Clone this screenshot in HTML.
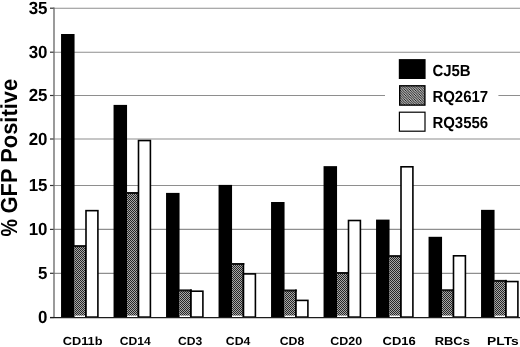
<!DOCTYPE html><html><head><meta charset="utf-8"><title>chart</title><style>html,body{margin:0;padding:0;background:#fff}svg{display:block}text{text-rendering:geometricPrecision;font-family:"Liberation Sans",Arial,sans-serif;font-weight:bold;fill:#000}</style></head><body>
<svg width="520" height="347" viewBox="0 0 520 347">
<defs>
<pattern id="h" width="2" height="2" patternUnits="userSpaceOnUse"><rect width="2" height="2" fill="#a8a8a8"/><rect width="1" height="1" fill="#262626"/><rect x="1" y="1" width="1" height="1" fill="#262626"/></pattern>
<pattern id="d" width="2.5" height="2.5" patternUnits="userSpaceOnUse"><rect width="2.5" height="2.5" fill="#ffffff"/><path d="M-1.25,-1.25 L3.75,3.75 M-1.25,1.25 L1.25,3.75 M1.25,-1.25 L3.75,1.25" stroke="#000" stroke-width="1.0"/></pattern>
</defs>
<rect width="520" height="347" fill="#fff"/>
<line x1="54.0" y1="273.30" x2="520" y2="273.30" stroke="#8e8e8e" stroke-width="1.15"/>
<line x1="54.0" y1="229.40" x2="520" y2="229.40" stroke="#8e8e8e" stroke-width="1.15"/>
<line x1="54.0" y1="185.50" x2="520" y2="185.50" stroke="#8e8e8e" stroke-width="1.15"/>
<line x1="54.0" y1="139.00" x2="520" y2="139.00" stroke="#8e8e8e" stroke-width="1.15"/>
<line x1="54.0" y1="95.50" x2="520" y2="95.50" stroke="#8e8e8e" stroke-width="1.15"/>
<line x1="54.0" y1="52.20" x2="520" y2="52.20" stroke="#8e8e8e" stroke-width="1.15"/>
<line x1="54.0" y1="8.20" x2="520" y2="8.20" stroke="#8e8e8e" stroke-width="1.15"/>
<line x1="50.0" y1="317.50" x2="54.0" y2="317.50" stroke="#333" stroke-width="1.2"/>
<text transform="translate(47.5,323.30) scale(0.96,1)" font-size="17.6" text-anchor="end">0</text>
<line x1="50.0" y1="273.30" x2="54.0" y2="273.30" stroke="#333" stroke-width="1.2"/>
<text transform="translate(47.5,279.10) scale(0.96,1)" font-size="17.6" text-anchor="end">5</text>
<line x1="50.0" y1="229.40" x2="54.0" y2="229.40" stroke="#333" stroke-width="1.2"/>
<text transform="translate(47.5,235.20) scale(0.96,1)" font-size="17.6" text-anchor="end">10</text>
<line x1="50.0" y1="185.50" x2="54.0" y2="185.50" stroke="#333" stroke-width="1.2"/>
<text transform="translate(47.5,191.30) scale(0.96,1)" font-size="17.6" text-anchor="end">15</text>
<line x1="50.0" y1="139.00" x2="54.0" y2="139.00" stroke="#333" stroke-width="1.2"/>
<text transform="translate(47.5,144.80) scale(0.96,1)" font-size="17.6" text-anchor="end">20</text>
<line x1="50.0" y1="95.50" x2="54.0" y2="95.50" stroke="#333" stroke-width="1.2"/>
<text transform="translate(47.5,101.30) scale(0.96,1)" font-size="17.6" text-anchor="end">25</text>
<line x1="50.0" y1="52.20" x2="54.0" y2="52.20" stroke="#333" stroke-width="1.2"/>
<text transform="translate(47.5,58.00) scale(0.96,1)" font-size="17.6" text-anchor="end">30</text>
<line x1="50.0" y1="8.20" x2="54.0" y2="8.20" stroke="#333" stroke-width="1.2"/>
<text transform="translate(47.5,14.00) scale(0.96,1)" font-size="17.6" text-anchor="end">35</text>
<line x1="54.0" y1="7.60" x2="54.0" y2="317.5" stroke="#707070" stroke-width="1.4"/>
<rect x="385" y="54" width="113.4" height="82" fill="#fff"/>
<rect x="61.05" y="34.00" width="13.50" height="283.50" fill="#000"/>
<rect x="74.55" y="246.10" width="11.45" height="69.50" fill="url(#h)"/>
<rect x="73.90" y="245.10" width="12.85" height="2" fill="#111"/>
<rect x="85.10" y="245.10" width="1.65" height="72.40" fill="#000"/>
<rect x="86.00" y="210.65" width="11.90" height="106.45" fill="#fff" stroke="#000" stroke-width="1.6"/>
<text transform="translate(82.65,345.3) scale(1.092,1)" font-size="11.7" text-anchor="middle">CD11b</text>
<rect x="113.55" y="104.90" width="13.50" height="212.60" fill="#000"/>
<rect x="127.05" y="193.00" width="11.45" height="122.60" fill="url(#h)"/>
<rect x="126.40" y="192.00" width="12.85" height="2" fill="#111"/>
<rect x="137.60" y="192.00" width="1.65" height="125.50" fill="#000"/>
<rect x="138.50" y="140.55" width="11.90" height="176.55" fill="#fff" stroke="#000" stroke-width="1.6"/>
<text transform="translate(135.25,345.3) scale(1.039,1)" font-size="11.7" text-anchor="middle">CD14</text>
<rect x="166.05" y="192.90" width="13.50" height="124.60" fill="#000"/>
<rect x="179.55" y="290.40" width="11.45" height="25.20" fill="url(#h)"/>
<rect x="178.90" y="289.40" width="12.85" height="2" fill="#111"/>
<rect x="190.10" y="289.40" width="1.65" height="28.10" fill="#000"/>
<rect x="191.00" y="291.20" width="11.90" height="25.90" fill="#fff" stroke="#000" stroke-width="1.6"/>
<text transform="translate(190.15,345.3) scale(1.035,1)" font-size="11.7" text-anchor="middle">CD3</text>
<rect x="218.55" y="184.90" width="13.50" height="132.60" fill="#000"/>
<rect x="232.05" y="264.00" width="11.45" height="51.60" fill="url(#h)"/>
<rect x="231.40" y="263.00" width="12.85" height="2" fill="#111"/>
<rect x="242.60" y="263.00" width="1.65" height="54.50" fill="#000"/>
<rect x="243.50" y="273.90" width="11.90" height="43.20" fill="#fff" stroke="#000" stroke-width="1.6"/>
<text transform="translate(238.05,345.3) scale(1.052,1)" font-size="11.7" text-anchor="middle">CD4</text>
<rect x="271.05" y="202.00" width="13.50" height="115.50" fill="#000"/>
<rect x="284.55" y="290.50" width="11.45" height="25.10" fill="url(#h)"/>
<rect x="283.90" y="289.50" width="12.85" height="2" fill="#111"/>
<rect x="295.10" y="289.50" width="1.65" height="28.00" fill="#000"/>
<rect x="296.00" y="300.40" width="11.90" height="16.70" fill="#fff" stroke="#000" stroke-width="1.6"/>
<text transform="translate(291.95,345.3) scale(1.052,1)" font-size="11.7" text-anchor="middle">CD8</text>
<rect x="323.55" y="166.15" width="13.50" height="151.35" fill="#000"/>
<rect x="337.05" y="273.00" width="11.45" height="42.60" fill="url(#h)"/>
<rect x="336.40" y="272.00" width="12.85" height="2" fill="#111"/>
<rect x="347.60" y="272.00" width="1.65" height="45.50" fill="#000"/>
<rect x="348.50" y="220.50" width="11.90" height="96.60" fill="#fff" stroke="#000" stroke-width="1.6"/>
<text transform="translate(346.25,345.3) scale(1.066,1)" font-size="11.7" text-anchor="middle">CD20</text>
<rect x="376.05" y="219.60" width="13.50" height="97.90" fill="#000"/>
<rect x="389.55" y="256.10" width="11.45" height="59.50" fill="url(#h)"/>
<rect x="388.90" y="255.10" width="12.85" height="2" fill="#111"/>
<rect x="400.10" y="255.10" width="1.65" height="62.40" fill="#000"/>
<rect x="401.00" y="166.80" width="11.90" height="150.30" fill="#fff" stroke="#000" stroke-width="1.6"/>
<text transform="translate(399.15,345.3) scale(1.109,1)" font-size="11.7" text-anchor="middle">CD16</text>
<rect x="428.55" y="236.80" width="13.50" height="80.70" fill="#000"/>
<rect x="442.05" y="290.25" width="11.45" height="25.35" fill="url(#h)"/>
<rect x="441.40" y="289.25" width="12.85" height="2" fill="#111"/>
<rect x="452.60" y="289.25" width="1.65" height="28.25" fill="#000"/>
<rect x="453.50" y="255.80" width="11.90" height="61.30" fill="#fff" stroke="#000" stroke-width="1.6"/>
<text transform="translate(452.25,345.3) scale(1.107,1)" font-size="11.7" text-anchor="middle">RBCs</text>
<rect x="481.05" y="209.85" width="13.50" height="107.65" fill="#000"/>
<rect x="494.55" y="280.90" width="11.45" height="34.70" fill="url(#h)"/>
<rect x="493.90" y="279.90" width="12.85" height="2" fill="#111"/>
<rect x="505.10" y="279.90" width="1.65" height="37.60" fill="#000"/>
<rect x="506.00" y="281.55" width="11.90" height="35.55" fill="#fff" stroke="#000" stroke-width="1.6"/>
<text transform="translate(502.95,345.3) scale(1.182,1)" font-size="11.7" text-anchor="middle">PLTs</text>
<line x1="50.0" y1="317.5" x2="520" y2="317.5" stroke="#1c1c1c" stroke-width="1.25"/>
<rect x="398.8" y="59.1" width="26.8" height="19.9" fill="#000"/>
<rect x="399.7" y="85.8" width="25.2" height="19.3" fill="url(#d)" stroke="#000" stroke-width="1.4"/>
<rect x="399.4" y="112.2" width="25.6" height="19" fill="#fff" stroke="#000" stroke-width="1.2"/>
<text transform="translate(432.4,75.6) scale(0.936,1)" font-size="16">CJ5B</text>
<text transform="translate(432.4,101.8) scale(0.936,1)" font-size="16">RQ2617</text>
<text transform="translate(432.4,128.2) scale(0.936,1)" font-size="16">RQ3556</text>
<text transform="translate(17.4,236.6) rotate(-90) scale(0.2275,0.27)" font-size="86">%</text>
<text transform="translate(17.4,213.5) rotate(-90) scale(0.2545,0.27)" font-size="86">GFP Positive</text>
</svg></body></html>
